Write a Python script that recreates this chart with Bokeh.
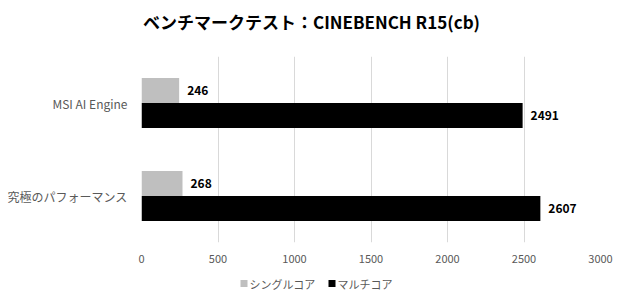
from bokeh.plotting import figure
from bokeh.layouts import column
from bokeh.models import ColumnDataSource, Range1d, LabelSet, FixedTicker
from bokeh.core.properties import value
from bokeh.embed import file_html
from bokeh.resources import INLINE

title_text = "ベンチマークテスト：CINEBENCH R15(cb)"
categories = ["MSI AI Engine", "究極のパフォーマンス"]
single_core = [246, 268]
multi_core = [2491, 2607]
series_names = ["シングルコア", "マルチコア"]
series_colors = ["#bfbfbf", "#000000"]
x_ticks = [0, 500, 1000, 1500, 2000, 2500, 3000]

FONT = "Noto Sans CJK JP"
W = 620
LEFT = 141   # frame left edge (px)
RIGHT = 20   # right border (px)


def blank_fig(height):
    # frames of a column are aligned with the main chart's frame, so map x to page pixels
    f = figure(width=W, height=height, output_backend="svg", toolbar_location=None,
               x_range=Range1d(LEFT, W - RIGHT), y_range=Range1d(0, height),
               min_border_left=LEFT, min_border_right=RIGHT,
               min_border_top=0, min_border_bottom=0)
    f.axis.visible = False
    f.grid.visible = False
    f.outline_line_color = None
    return f


# ---- title ----
tf = blank_fig(56)
tf.text(x=[311], y=[35], text=[title_text], text_align="center", text_baseline="middle",
        text_font=value(FONT), text_font_size="17px", text_font_style="bold",
        text_color="#000000")

# ---- main chart ----
n = len(categories)
ypos = [n - 0.5 - i for i in range(n)]  # first category at top
off = 0.135
h = 0.27

src = ColumnDataSource(data=dict(
    y_single=[y + off for y in ypos],
    y_multi=[y - off for y in ypos],
    single=single_core,
    multi=multi_core,
    single_lbl=[str(v) for v in single_core],
    multi_lbl=[str(v) for v in multi_core],
))

p = figure(width=W, height=214, output_backend="svg", toolbar_location=None,
           y_range=Range1d(0, n), x_range=Range1d(0, 3000),
           min_border_left=LEFT, min_border_right=RIGHT, min_border_top=0, min_border_bottom=28)
p.outline_line_color = None
p.ygrid.grid_line_color = None
p.xgrid.grid_line_color = "#d9d9d9"
p.xaxis.ticker = FixedTicker(ticks=x_ticks)
p.yaxis.ticker = FixedTicker(ticks=ypos)
p.yaxis.major_label_overrides = {y: c for y, c in zip(ypos, categories)}
for ax in (p.xaxis, p.yaxis):
    ax.axis_line_color = None
    ax.major_tick_line_color = None
    ax.minor_tick_line_color = None
    ax.major_label_text_color = "#595959"
    ax.major_label_text_font = FONT
p.xaxis.major_label_text_font_size = "11px"
p.yaxis.major_label_text_font_size = "12px"
p.xaxis.major_label_standoff = 6
p.yaxis.major_label_standoff = 8

p.hbar(y="y_single", right="single", left=0, height=h,
       source=src, fill_color=series_colors[0], line_color=None)
p.hbar(y="y_multi", right="multi", left=0, height=h,
       source=src, fill_color=series_colors[1], line_color=None)

for col, ycol, lbl in (("single", "y_single", "single_lbl"), ("multi", "y_multi", "multi_lbl")):
    ls = LabelSet(x=col, y=ycol, text=lbl, source=src,
                  x_offset=8, text_baseline="middle", text_font=value(FONT),
                  text_font_size="12px", text_font_style="bold", text_color="#000000")
    p.add_layout(ls)

# ---- legend ----
lf = blank_fig(30)
leg_sq_x = [243.5, 331.5]
leg_tx_x = [249, 337]
lf.scatter(x=leg_sq_x, y=[17, 17], marker="square", size=7,
           fill_color=series_colors, line_color=None)
lf.text(x=leg_tx_x, y=[17, 17], text=series_names, text_align="left", text_baseline="middle",
        text_font=value(FONT), text_font_size="11px", text_color="#595959")

layout = column(tf, p, lf, spacing=0)
open("out.html", "w").write(file_html(layout, INLINE))
